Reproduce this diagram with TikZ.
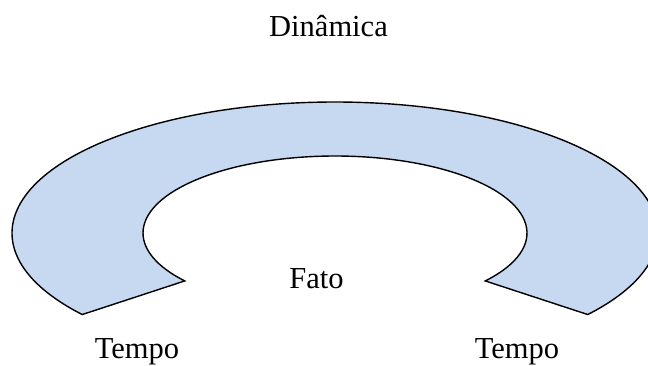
\documentclass[tikz,border=0pt]{standalone}
\usepackage{fontspec}
\setmainfont{Liberation Serif}
\usetikzlibrary{calc}
\definecolor{arcfill}{RGB}{198,217,240}
\begin{document}
\begin{tikzpicture}[x=1pt,y=1pt,
  lbl/.style={font=\fontsize{30.5}{36}\selectfont, anchor=base, inner sep=0pt},
  arcshape/.style={fill=arcfill, draw=black, line width=1.4pt, line join=miter}]
\useasboundingbox (0,0) rectangle (648,365);
\clip (0,0) rectangle (648,365);
\coordinate (c) at (335,132);
\draw[arcshape] ($(c)+(218.5:323 and 131)$) arc[start angle=218.5, end angle=-38.5, x radius=323, y radius=131]
  -- ($(c)+(-38.5:192 and 77)$) arc[start angle=-38.5, end angle=218.5, x radius=192, y radius=77] -- cycle;
\node[lbl] (dyn) at (328.5,328) {Dinâmica};
\node[lbl] (fato) at (316.5,77) {Fato};
\node[lbl] (t1) at (137,7) {Tempo};
\node[lbl] (t2) at (517,7) {Tempo};
\end{tikzpicture}
\end{document}
